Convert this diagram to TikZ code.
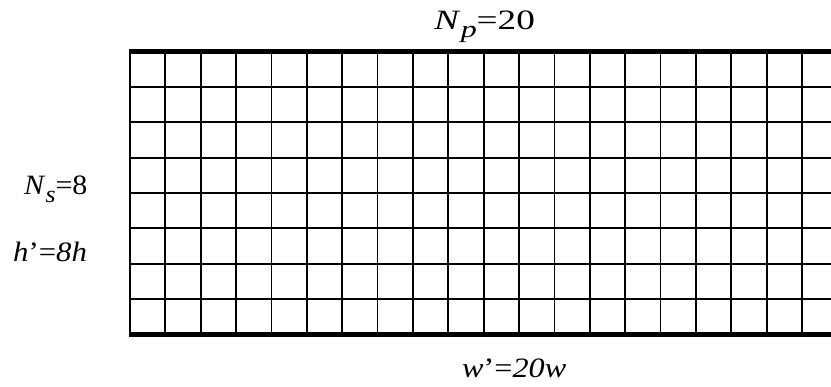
\documentclass[tikz,border=0pt]{standalone}
\usepackage{fontspec}
\usepackage{graphicx}
\setmainfont{Liberation Serif}
\newcommand{\lowsub}[1]{\raisebox{-8pt}{\fontsize{24}{24}\selectfont\textit{#1}}}
\begin{document}
\begin{tikzpicture}[x=1pt,y=-1pt,
  thin grid/.style={line width=1.8pt,black},
  thick rule/.style={line width=4.6pt,black},
  lbl/.style={anchor=base west,inner sep=0pt,font=\fontsize{28}{28}\selectfont}]
\useasboundingbox (0,0) rectangle (831,387);
\begin{scope}
\clip (0,0) rectangle (831,387);
\foreach \k in {0,...,20} {
  \draw[thin grid] (130+35.37*\k,51.5) -- (130+35.37*\k,334.5);
}
\foreach \r in {1,...,7} {
  \draw[thin grid] (130,51.5+35.375*\r) -- (840,51.5+35.375*\r);
}
\coordinate (tl) at (129.1,51.5);
\coordinate (tr) at (845,51.5);
\coordinate (bl) at (129.1,334.5);
\coordinate (br) at (845,334.5);
\draw[thick rule] (tl) -- (tr);
\draw[thick rule] (bl) -- (br);
\end{scope}
\node[lbl] (np) at (434,30) {\scalebox{1.33}[1]{\textit{N}\lowsub{p}=20}};
\node[lbl] (ns) at (24,195) {\scalebox{1.07}[1]{\textit{N}\lowsub{s}=8}};
\node[lbl] (hp) at (13,262) {\scalebox{1.1}[1]{\textit{h}’=\textit{8h}}};
\node[lbl] (wp) at (462,378) {\scalebox{1.15}[1]{\textit{w}’=\textit{20w}}};
\end{tikzpicture}
\end{document}
